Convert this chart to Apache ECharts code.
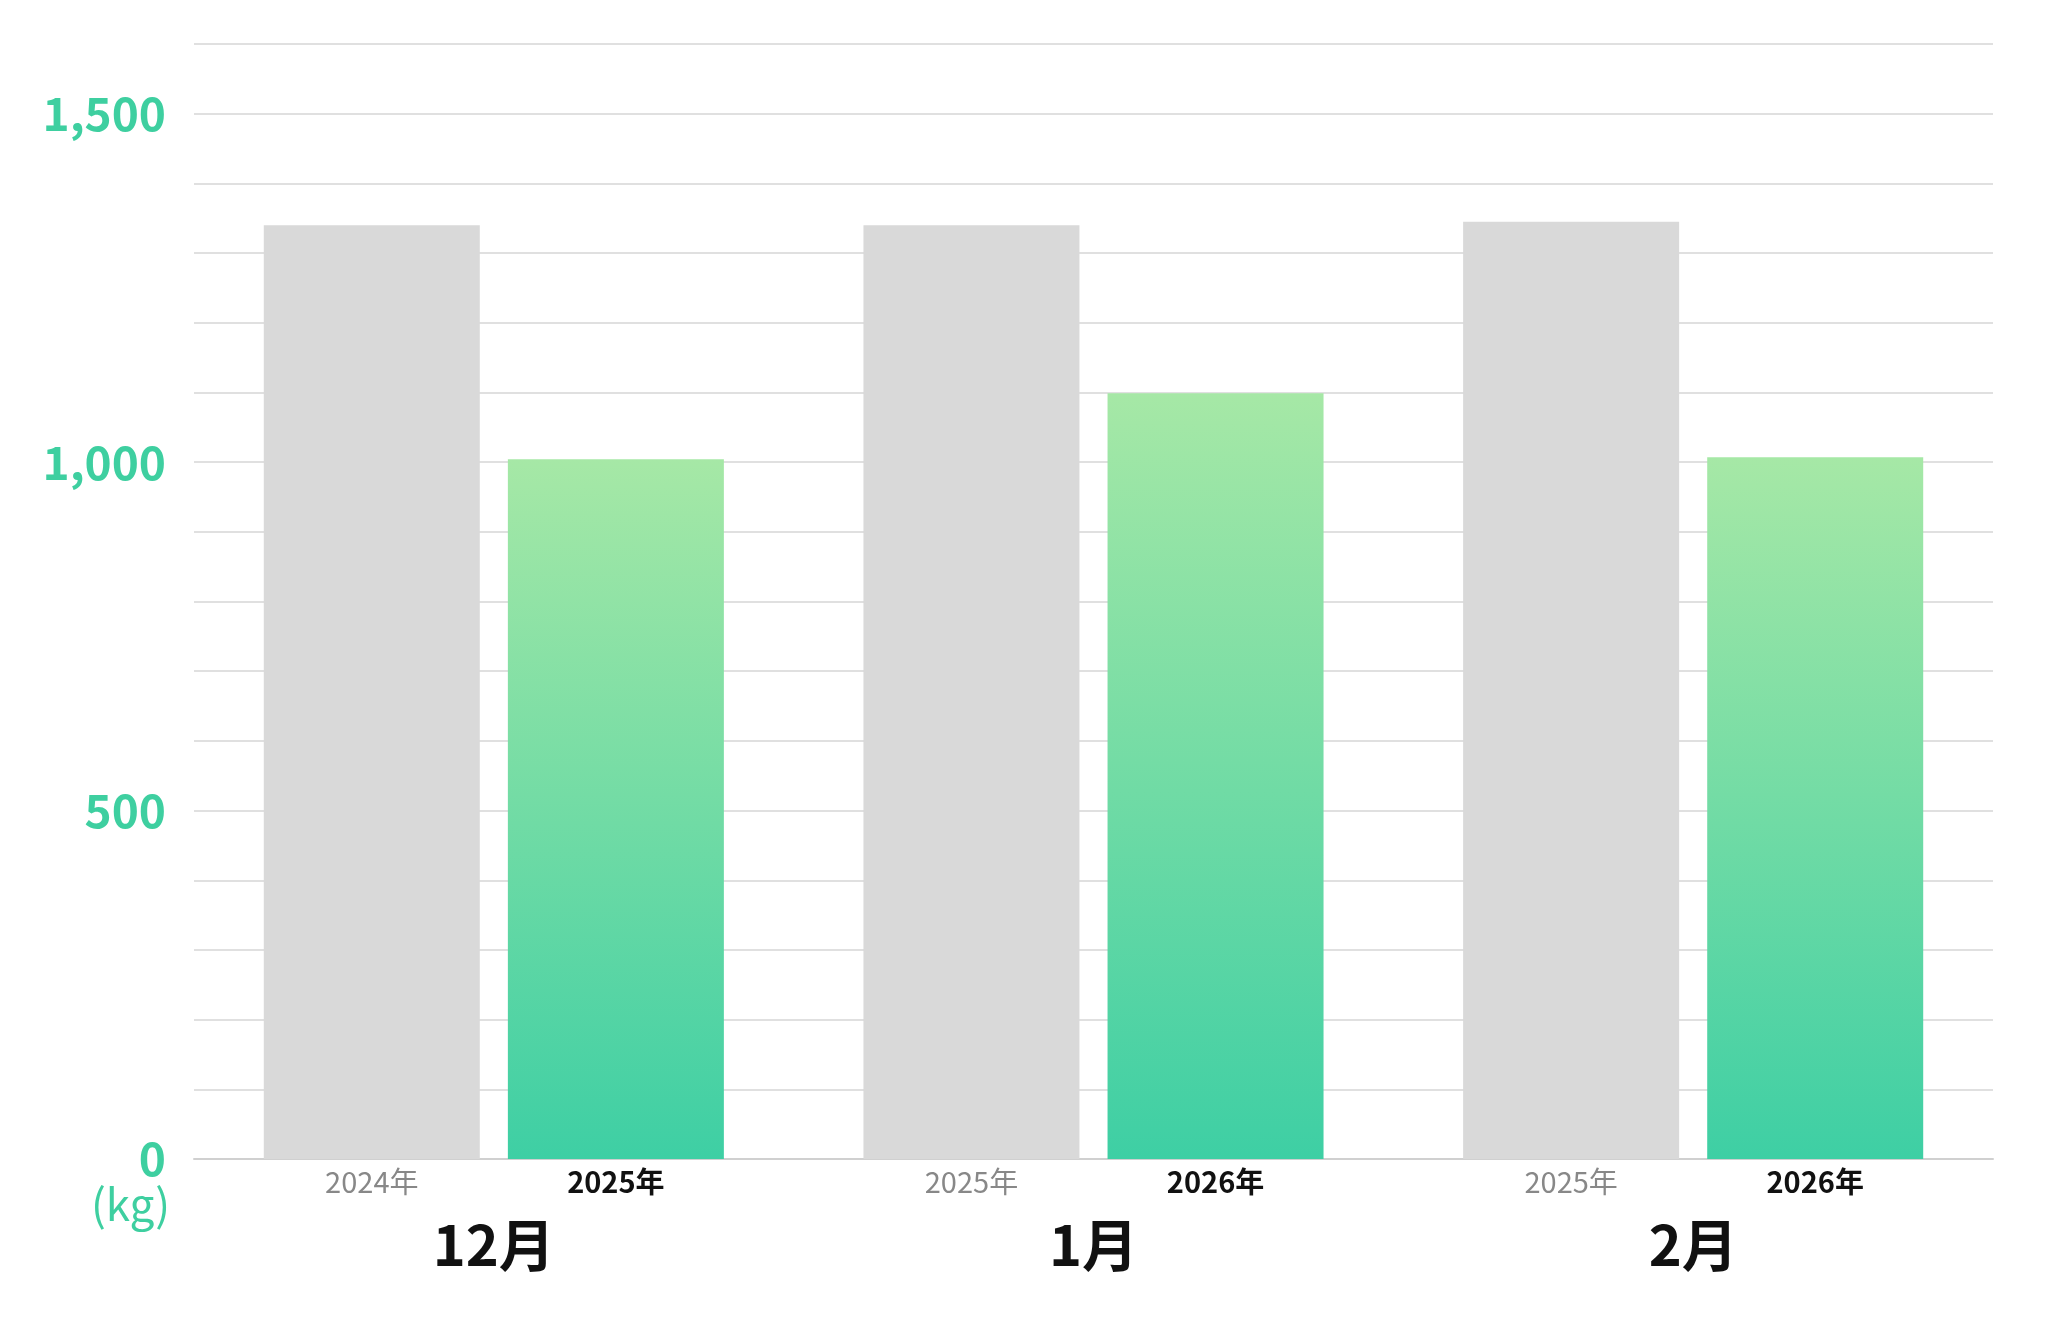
<!DOCTYPE html>
<html><head><meta charset="utf-8">
<script src="https://cdn.jsdelivr.net/npm/echarts@6/dist/echarts.min.js"></script>
<style>html,body{margin:0;background:#fff}#c{width:2048px;height:1317px}</style>
</head><body><div id="c"></div>
<script>
const months = ['12月', '1月', '2月'];
const prevYears = ['2024年', '2025年', '2025年'];
const currYears = ['2025年', '2026年', '2026年'];
const prevValues = [1340, 1340, 1345];
const currValues = [1004, 1099, 1007];
const yTicks = [0, 500, 1000, 1500];

const font = '"Noto Sans CJK JP", "Noto Sans", sans-serif';
const chart = echarts.init(document.getElementById('c'));
chart.setOption({
  animation: false,
  grid: { left: 194, right: 55, top: 44, bottom: 158 },
  xAxis: {
    type: 'category', data: months,
    axisLine: { lineStyle: { color: '#d0d0d0', width: 2 } },
    axisTick: { show: false },
    axisLabel: { margin: 58, fontSize: 56, fontWeight: 'bold', color: '#111', fontFamily: font }
  },
  yAxis: {
    type: 'value', min: 0, max: 1600, interval: 100,
    name: '(kg)', nameLocation: 'start', nameGap: 22,
    nameTextStyle: { color: '#3ecfa0', fontSize: 44, fontWeight: 'normal', fontFamily: font, align: 'right', padding: [0, 24, 0, 0], verticalAlign: 'top' },
    splitLine: { lineStyle: { color: '#d6d6d6', width: 1.5 } },
    axisLine: { show: false }, axisTick: { show: false },
    axisLabel: {
      margin: 28, fontSize: 46, fontWeight: 'bold', color: '#3ecfa0', fontFamily: font,
      formatter: v => yTicks.includes(v) ? v.toLocaleString('en-US') : ''
    }
  },
  series: [
    {
      type: 'bar', data: prevValues, barWidth: 216, barGap: '13%',
      itemStyle: { color: '#d9d9d9' },
      label: { show: true, position: 'insideBottom', offset: [0, 42], fontSize: 29, color: '#888',
        fontWeight: 'normal', fontFamily: font, formatter: p => prevYears[p.dataIndex] }
    },
    {
      type: 'bar', data: currValues, barWidth: 216,
      itemStyle: { color: new echarts.graphic.LinearGradient(0, 0, 0, 1, [
        { offset: 0, color: '#a6e8a6' }, { offset: 1, color: '#3ecfa4' }]) },
      label: { show: true, position: 'insideBottom', offset: [0, 42], fontSize: 29, color: '#111',
        fontWeight: 'bold', fontFamily: font, formatter: p => currYears[p.dataIndex] }
    }
  ]
});
</script></body></html>
